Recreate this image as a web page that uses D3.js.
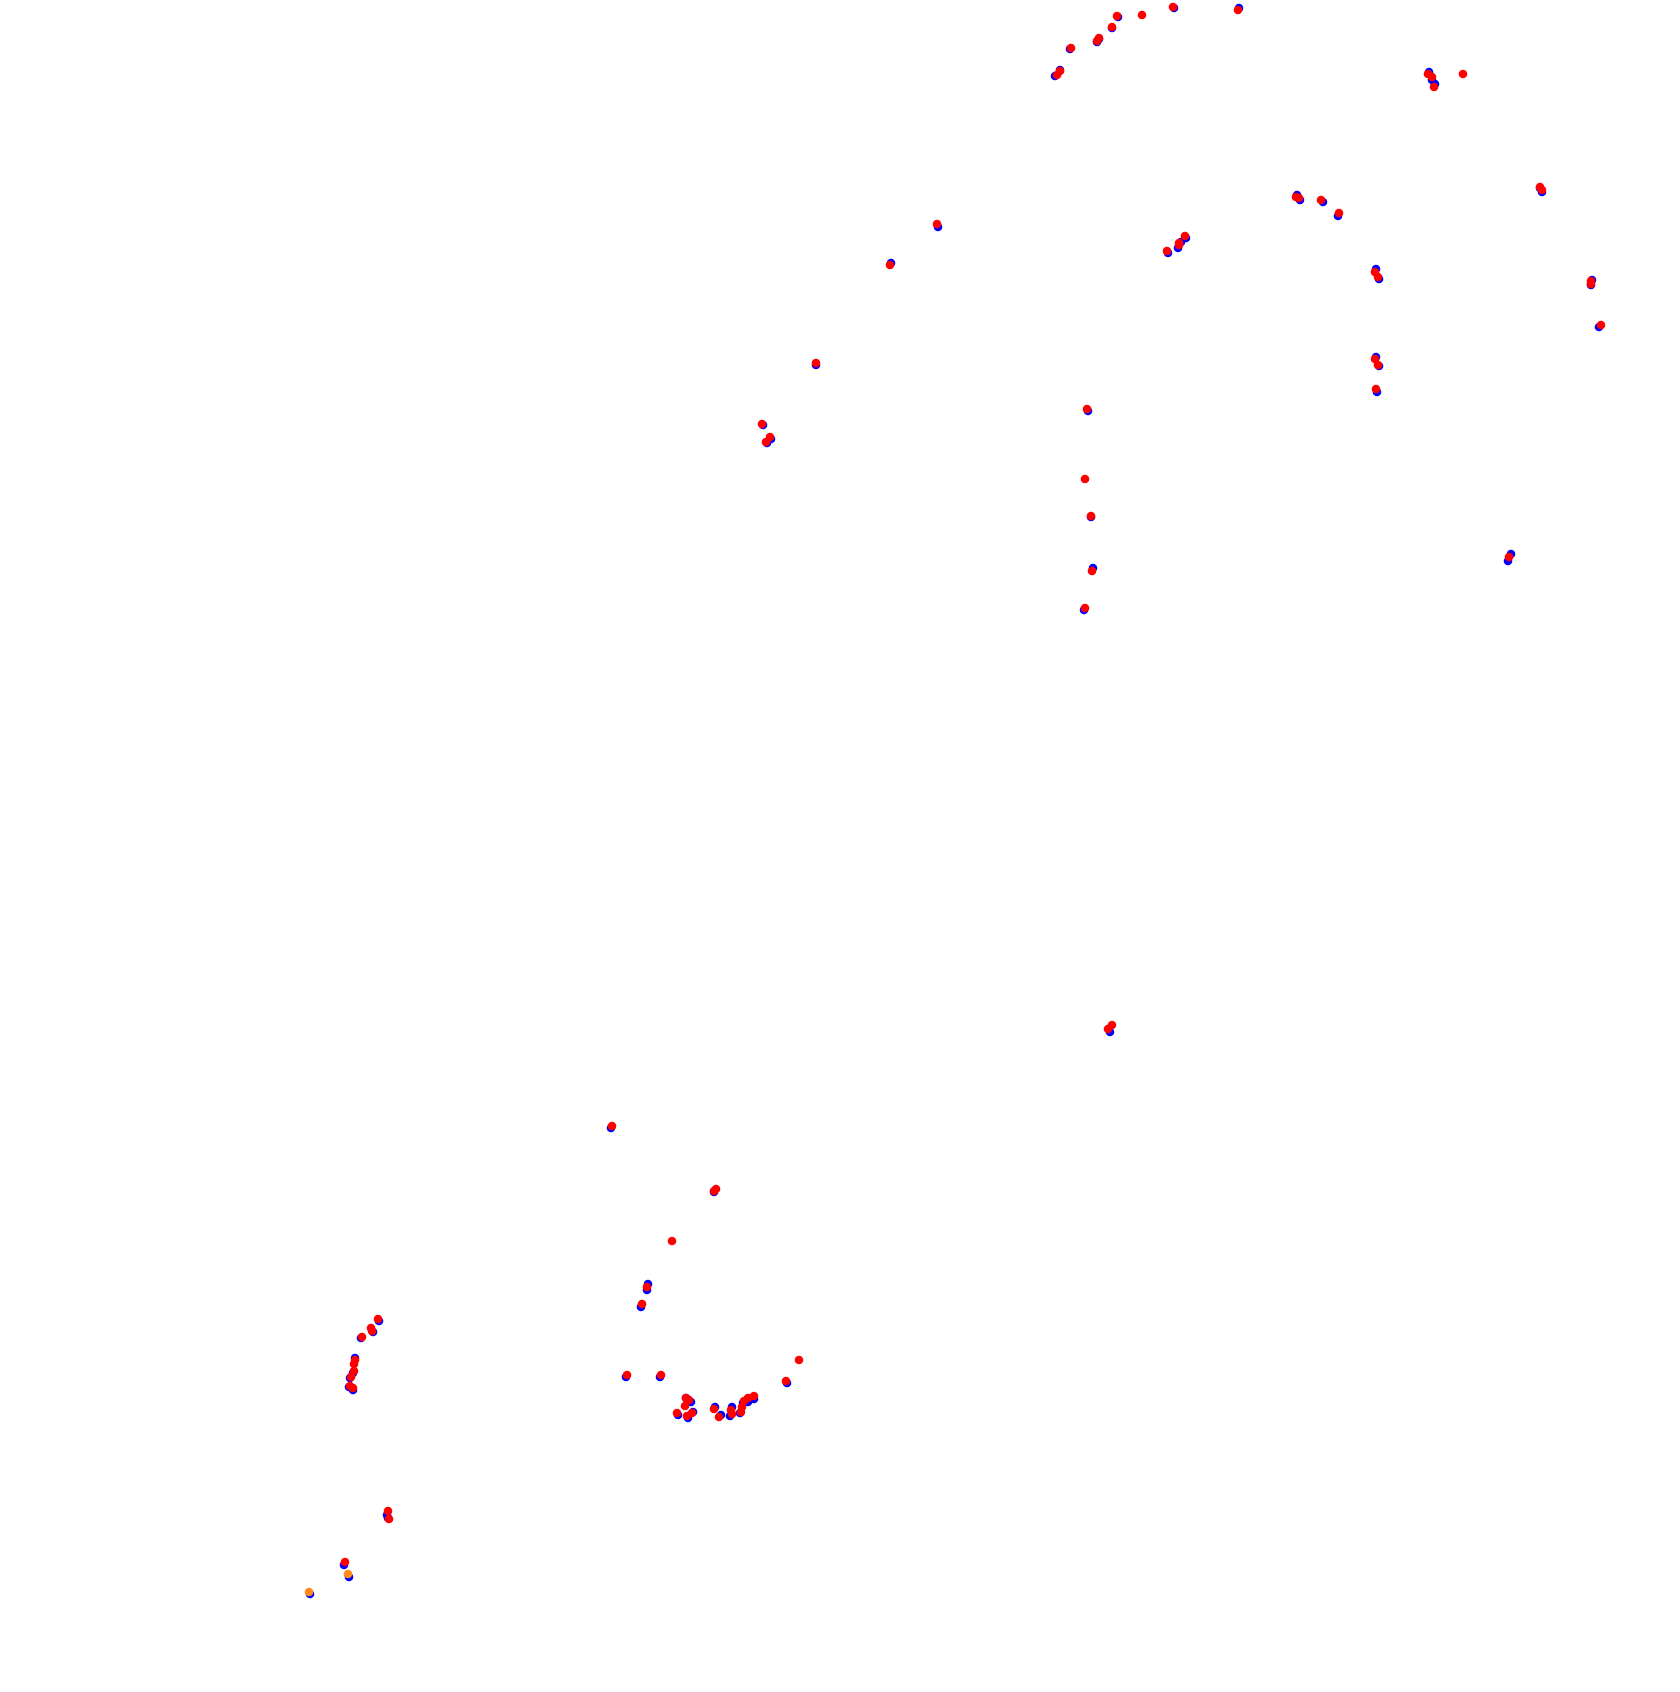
<!DOCTYPE html>
<html>
<head>
<meta charset="utf-8">
<script src="https://cdn.jsdelivr.net/npm/d3@7"></script>
<style>
html,body{margin:0;padding:0;background:#fff;}
svg{display:block;}
</style>
</head>
<body>
<div id="chart"></div>
<script>
// Series values (x, y in chart data units)
const bluePoints = [
 [1055,76],[1060,70],[1070,49],[1097,42],[1099,39],[1112,28],[1118,17],[1174,8],[1239,8],
 [1429,72],[1432,80],[1435,84],[1540,188],[1542,192],[1376,269],[1379,279],[1592,280],[1591,285],
 [1599,327],[938,227],[891,263],[1168,253],[1178,248],[1181,242],[1186,238],[1088,411],[1377,392],
 [1376,357],[1379,366],
 [1091,517],[1093,568],[1084,610],[1297,195],[1300,200],[1323,202],[1338,216],[611,1128],[714,1192],
 [648,1284],[647,1290],[641,1307],[626,1377],[660,1377],[787,1383],[678,1415],[686,1398],[691,1402],
 [688,1418],[693,1412],[715,1407],[721,1415],[732,1407],[730,1416],[740,1413],[743,1403],[748,1402],
 [754,1399],[379,1321],[373,1332],[361,1338],[355,1358],[353,1373],[350,1378],[349,1387],[353,1390],
 [387,1515],[388,1518],[344,1565],[349,1577],[310,1594],[1110,1032],[816,365],[763,425],[771,439],
 [767,443],[1511,554],[1508,561]
];
const orangePoints = [
 [348,1574],[309,1592]
];
const redPoints = [
 [1057,75],[1060,71],[1071,48],[1097,41],[1099,38],[1112,27],[1117,16],[1142,15],[1173,7],[1238,10],
 [1428,74],[1432,77],[1434,87],[1463,74],[1540,187],[1542,190],[1375,272],[1378,277],[1591,281],[1591,284],
 [1601,325],[937,224],[890,265],[1167,251],[1179,245],[1179,243],[1185,236],[1087,409],[1085,479],[1376,389],
 [1375,359],[1378,365],
 [1091,516],[1092,571],[1085,608],[1296,197],[1299,198],[1321,200],[1339,213],[612,1126],[714,1191],[716,1189],
 [672,1241],[647,1287],[642,1304],[627,1375],[661,1375],[799,1360],[786,1381],[677,1413],[686,1398],[689,1400],
 [685,1406],[687,1416],[692,1413],[714,1409],[719,1417],[731,1410],[732,1414],[741,1412],[742,1407],[744,1401],
 [748,1398],[754,1396],[378,1319],[371,1328],[372,1331],[362,1337],[355,1360],[354,1364],[354,1371],[351,1377],
 [350,1386],[353,1388],[388,1511],[389,1519],[345,1562],[1108,1029],[1112,1025],[816,363],[762,424],[770,437],
 [766,442],[1509,557]
];

const W = 1680, H = 1692;
const svg = d3.select("#chart").append("svg").attr("width", W).attr("height", H);

const x = d3.scaleLinear().domain([0, 1680]).range([0, W]);
const y = d3.scaleLinear().domain([0, 1692]).range([0, H]);

const layers = [
  {data: bluePoints, color: "#0000ff"},
  {data: orangePoints, color: "#ff8c1a"},
  {data: redPoints, color: "#ff0000"}
];

layers.forEach(l => {
  svg.append("g").selectAll("circle").data(l.data).join("circle")
    .attr("cx", d => x(d[0]))
    .attr("cy", d => y(d[1]))
    .attr("r", 4.3)
    .attr("fill", l.color);
});
</script>
</body>
</html>
